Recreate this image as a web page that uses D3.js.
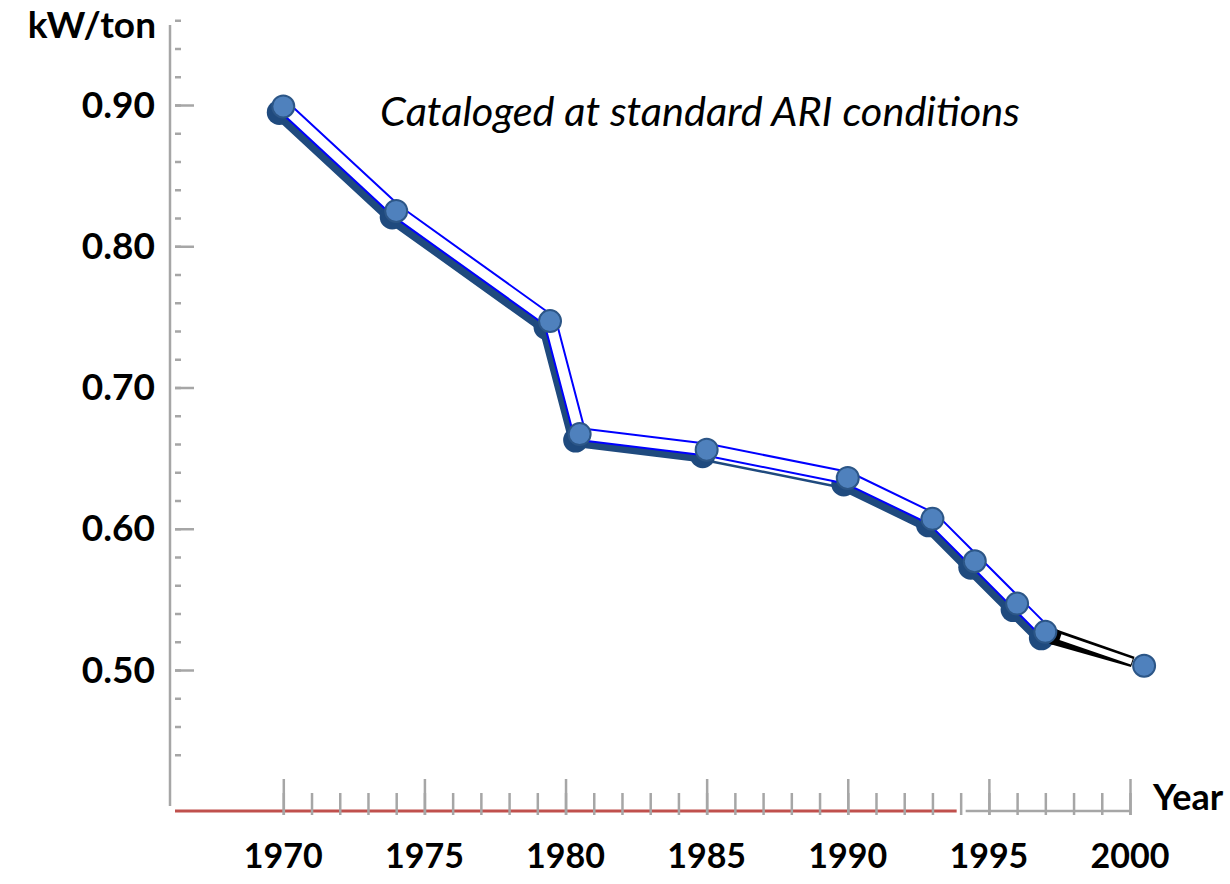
<!DOCTYPE html>
<html lang="en">
<head>
<meta charset="utf-8">
<script src="https://d3js.org/d3.v7.min.js"></script>
<style>
body { margin: 0; background: #fff; }
svg text { font-family: Lato, "Open Sans", sans-serif; fill: #000; font-weight: bold; }
.ylab, .ytitle { font-size: 37px; }
.xlab { font-size: 34px; }
.xtitle { font-size: 36px; }
.note { font-style: italic; font-weight: normal; font-size: 36px; }
.tick line { stroke: #a6a6a6; stroke-width: 2.5; }
</style>
</head>
<body>
<script>
// values
const years    = [1970, 1974, 1979.45, 1980.5, 1985, 1990, 1993, 1994.5, 1996, 1997, 2000.5];
const kwPerTon = [0.899, 0.825, 0.747, 0.667, 0.656, 0.636, 0.607, 0.577, 0.547, 0.527, 0.503];
const yMajor = [0.5, 0.6, 0.7, 0.8, 0.9];
const yTickLabels = ["0.50", "0.60", "0.70", "0.80", "0.90"];
const xMajor = [1970, 1975, 1980, 1985, 1990, 1995, 2000];
const xTickLabels = ["1970", "1975", "1980", "1985", "1990", "1995", "2000"];
const yTitle = "kW/ton";
const xTitle = "Year";
const note = "Cataloged at standard ARI conditions";

var width = 1230, height = 884;
var axisX = 170, baseY = 811;

var svg = d3.select("body").append("svg")
    .attr("width", width)
    .attr("height", height);

var x = d3.scaleLinear().domain([1970, 2000]).range([283.3, 1130]);
var y = d3.scaleLinear().domain([0.5, 0.9]).range([670, 105]);

// y axis spine + ticks
svg.append("line")
    .attr("x1", axisX).attr("x2", axisX)
    .attr("y1", 25).attr("y2", 806)
    .attr("stroke", "#a6a6a6").attr("stroke-width", 2.5);

var minorY = d3.range(22, 50).map(function(d) { return d / 50; });
svg.append("g")
    .attr("transform", "translate(" + (axisX + 5) + ",0)")
    .call(d3.axisRight(y).tickValues(minorY).tickSize(6).tickFormat(""))
    .call(function(g) { g.select(".domain").remove(); });
svg.append("g")
    .attr("transform", "translate(" + (axisX + 5) + ",0)")
    .call(d3.axisRight(y).tickValues(yMajor).tickSize(19).tickFormat(""))
    .call(function(g) { g.select(".domain").remove(); });

svg.selectAll(".ylab")
    .data(yMajor)
  .enter().append("text")
    .attr("class", "ylab")
    .attr("x", 155)
    .attr("y", function(d) { return y(d) - 2; })
    .attr("dominant-baseline", "central")
    .attr("text-anchor", "end")
    .text(function(d, i) { return yTickLabels[i]; });

svg.append("text")
    .attr("class", "ytitle")
    .attr("x", 156).attr("y", 38)
    .attr("text-anchor", "end")
    .text(yTitle);

// x axis: baseline in two parts, ticks every year
svg.append("line")
    .attr("x1", axisX + 5).attr("x2", x(1994) - 4)
    .attr("y1", baseY).attr("y2", baseY)
    .attr("stroke", "#c0504d").attr("stroke-width", 3);
svg.append("line")
    .attr("x1", x(1994) + 5).attr("x2", x(2000))
    .attr("y1", baseY).attr("y2", baseY)
    .attr("stroke", "#a6a6a6").attr("stroke-width", 2.5);

svg.append("g")
    .attr("transform", "translate(0," + (baseY + 4) + ")")
    .call(d3.axisTop(x).tickValues(d3.range(1970, 2001)).tickSize(22).tickFormat(""))
    .call(function(g) { g.select(".domain").remove(); });
svg.append("g")
    .attr("transform", "translate(0," + (baseY + 4) + ")")
    .call(d3.axisTop(x).tickValues(xMajor).tickSize(36).tickFormat(""))
    .call(function(g) { g.select(".domain").remove(); });

svg.selectAll(".xlab")
    .data(xMajor)
  .enter().append("text")
    .attr("class", "xlab")
    .attr("x", function(d) { return x(d); })
    .attr("y", 868)
    .attr("text-anchor", "middle")
    .text(function(d, i) { return xTickLabels[i]; });

svg.append("text")
    .attr("class", "xtitle")
    .attr("x", 1153).attr("y", 810)
    .text(xTitle);

// note, fitted to the reference width
var noteText = svg.append("text")
    .attr("class", "note")
    .attr("x", 380).attr("y", 126)
    .text(note);
var nw = noteText.node().getComputedTextLength();
noteText.style("font-size", (36 * 640 / nw) + "px");

// series
var pts = years.map(function(yr, i) { return [x(yr), y(kwPerTon[i])]; });
var main = pts.slice(0, pts.length - 1);
var last = pts.slice(pts.length - 2);
var line = d3.line();
var shadow = "#1f4a7e";

// drop shadow, one segment at a time (1985-1990 is only a thin edge)
d3.pairs(main).forEach(function(p, i) {
  var thin = years[i] === 1985;
  var dx = -4, dy = thin ? 10 : 6;
  svg.append("path")
      .attr("d", line(p))
      .attr("transform", "translate(" + dx + "," + dy + ")")
      .attr("fill", "none")
      .attr("stroke", shadow)
      .attr("stroke-width", thin ? 2.5 : 14)
      .attr("stroke-linecap", "round");
});
svg.selectAll(".shadowdot")
    .data(main)
  .enter().append("circle")
    .attr("cx", function(d) { return d[0] - 4; })
    .attr("cy", function(d) { return d[1] + 6; })
    .attr("r", 12.5)
    .attr("fill", shadow);

svg.append("path")
    .attr("d", line(main))
    .attr("fill", "none")
    .attr("stroke", "#0000ff")
    .attr("stroke-width", 14)
    .attr("stroke-linejoin", "round");
svg.append("path")
    .attr("d", line(main))
    .attr("fill", "none")
    .attr("stroke", "#fff")
    .attr("stroke-width", 10)
    .attr("stroke-linejoin", "round");

// projected last step: black outline, heavier on the lower side near its start
var a = last[0], b = last[1];
var len = Math.hypot(b[0] - a[0], b[1] - a[1]);
var ux = (b[0] - a[0]) / len, uy = (b[1] - a[1]) / len;
var nx = -uy, ny = ux; // normal, pointing below the segment
function at(p, along, side) {
  return [p[0] + ux * along + nx * side, p[1] + uy * along + ny * side];
}
var s0 = at(a, 10, 0), s1 = at(b, -12, 0);
svg.append("path")
    .attr("d", line([at(s0, 0, -6), at(s1, 0, -5.5), at(s1, 0, 5.5), at(s0, 0, 10)]) + "Z")
    .attr("fill", "#000");
svg.append("circle")
    .attr("cx", at(s0, 0, 2)[0]).attr("cy", at(s0, 0, 2)[1])
    .attr("r", 8)
    .attr("fill", "#000");
svg.append("path")
    .attr("d", line([at(s0, 6, 0), at(s1, -1, 0)]))
    .attr("fill", "none")
    .attr("stroke", "#fff")
    .attr("stroke-width", 6);

svg.selectAll(".dot")
    .data(pts)
  .enter().append("circle")
    .attr("class", "dot")
    .attr("cx", function(d) { return d[0]; })
    .attr("cy", function(d) { return d[1]; })
    .attr("r", 11)
    .attr("fill", "#4f81bd")
    .attr("stroke", "#2c5687")
    .attr("stroke-width", 2);
</script>
</body>
</html>
